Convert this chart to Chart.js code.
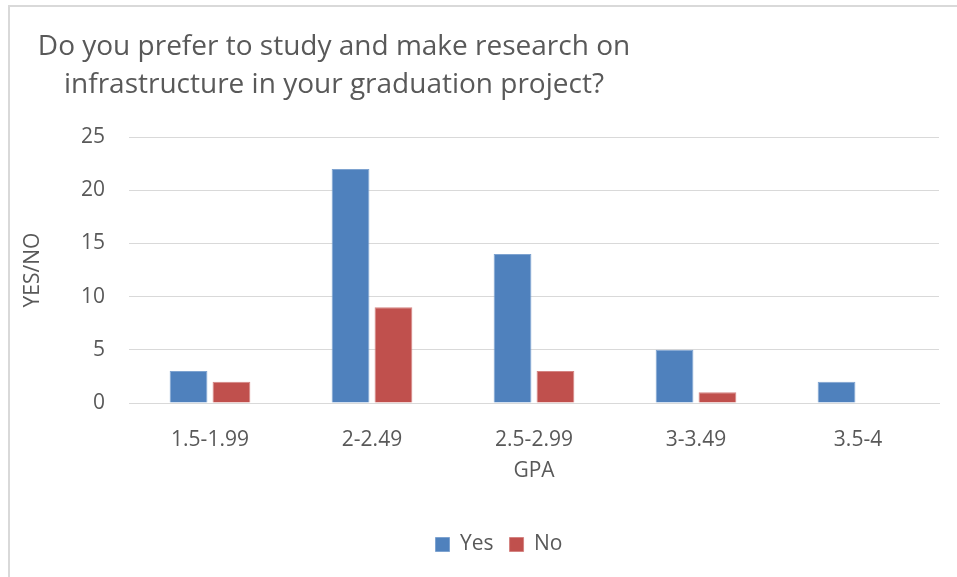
<!DOCTYPE html>
<html>
<head>
<meta charset="utf-8">
<script src="https://cdn.jsdelivr.net/npm/chart.js@4.4.0/dist/chart.umd.min.js"></script>
<style>
  html, body { margin: 0; padding: 0; background: #fff; }
  #wrap { position: relative; width: 957px; height: 577px; overflow: hidden; }
  #frame { position: absolute; left: 8px; top: 5px; width: 1000px; height: 1000px;
           border-left: 2px solid #d9d9d9; border-top: 2px solid #d9d9d9; }
  canvas { position: absolute; left: 0; top: 0; }
</style>
</head>
<body>
<div id="wrap">
  <div id="frame"></div>
  <canvas id="chart" width="957" height="577"></canvas>
</div>
<script>
const categories = ["1.5-1.99", "2-2.49", "2.5-2.99", "3-3.49", "3.5-4"];
const yesValues = [3, 22, 14, 5, 2];
const noValues = [2, 9, 3, 1, 0];
const titleLines = ["Do you prefer to study and make research on", "infrastructure in your graduation project?"];

const textColor = "#595959";
const fontFamily = "'Open Sans', 'Noto Sans', sans-serif";

// two line title, lines centred on each other but the block sits to the left
const titlePlugin = {
  id: "leftTitle",
  afterDraw(chart) {
    const ctx = chart.ctx;
    ctx.save();
    ctx.fillStyle = textColor;
    ctx.font = "28px " + fontFamily;
    ctx.textAlign = "center";
    ctx.textBaseline = "middle";
    ctx.fillText(titleLines[0], 334, 47);
    ctx.fillText(titleLines[1], 334, 85);
    ctx.restore();
  }
};

new Chart(document.getElementById("chart"), {
  type: "bar",
  data: {
    labels: categories,
    datasets: [
      { label: "Yes", data: yesValues, backgroundColor: "#4f81bd", borderColor: "#7ea3d0", borderWidth: 1 },
      { label: "No", data: noValues, backgroundColor: "#c0504d", borderColor: "#d48482", borderWidth: 1 }
    ]
  },
  options: {
    responsive: false,
    animation: false,
    layout: { padding: { top: 137, right: 18, left: 59, bottom: 12 } },
    datasets: { bar: { categoryPercentage: 0.53, barPercentage: 0.88 } },
    scales: {
      x: {
        grid: { display: false },
        border: { color: "#d9d9d9", width: 1 },
        ticks: { color: textColor, font: { family: fontFamily, size: 21 }, padding: 16 },
        title: { display: true, text: "GPA", color: textColor, font: { family: fontFamily, size: 21 }, padding: { top: 0, bottom: 34 } },
        afterFit(scale) { scale.height = 115; }
      },
      y: {
        min: 0,
        max: 25,
        ticks: { stepSize: 5, color: textColor, font: { family: fontFamily, size: 21 }, padding: 24 },
        grid: { color: "#d9d9d9", drawTicks: false },
        border: { display: false },
        title: { display: true, text: "YES/NO", color: textColor, font: { family: fontFamily, size: 21 }, padding: { top: -39, bottom: 0 } },
        afterFit(scale) { scale.width = 70; }
      }
    },
    plugins: {
      title: { display: false },
      tooltip: { enabled: false },
      legend: {
        position: "bottom",
        labels: { color: textColor, font: { family: fontFamily, size: 21 }, boxWidth: 14, boxHeight: 14, padding: 16 }
      }
    }
  },
  plugins: [titlePlugin]
});
</script>
</body>
</html>
